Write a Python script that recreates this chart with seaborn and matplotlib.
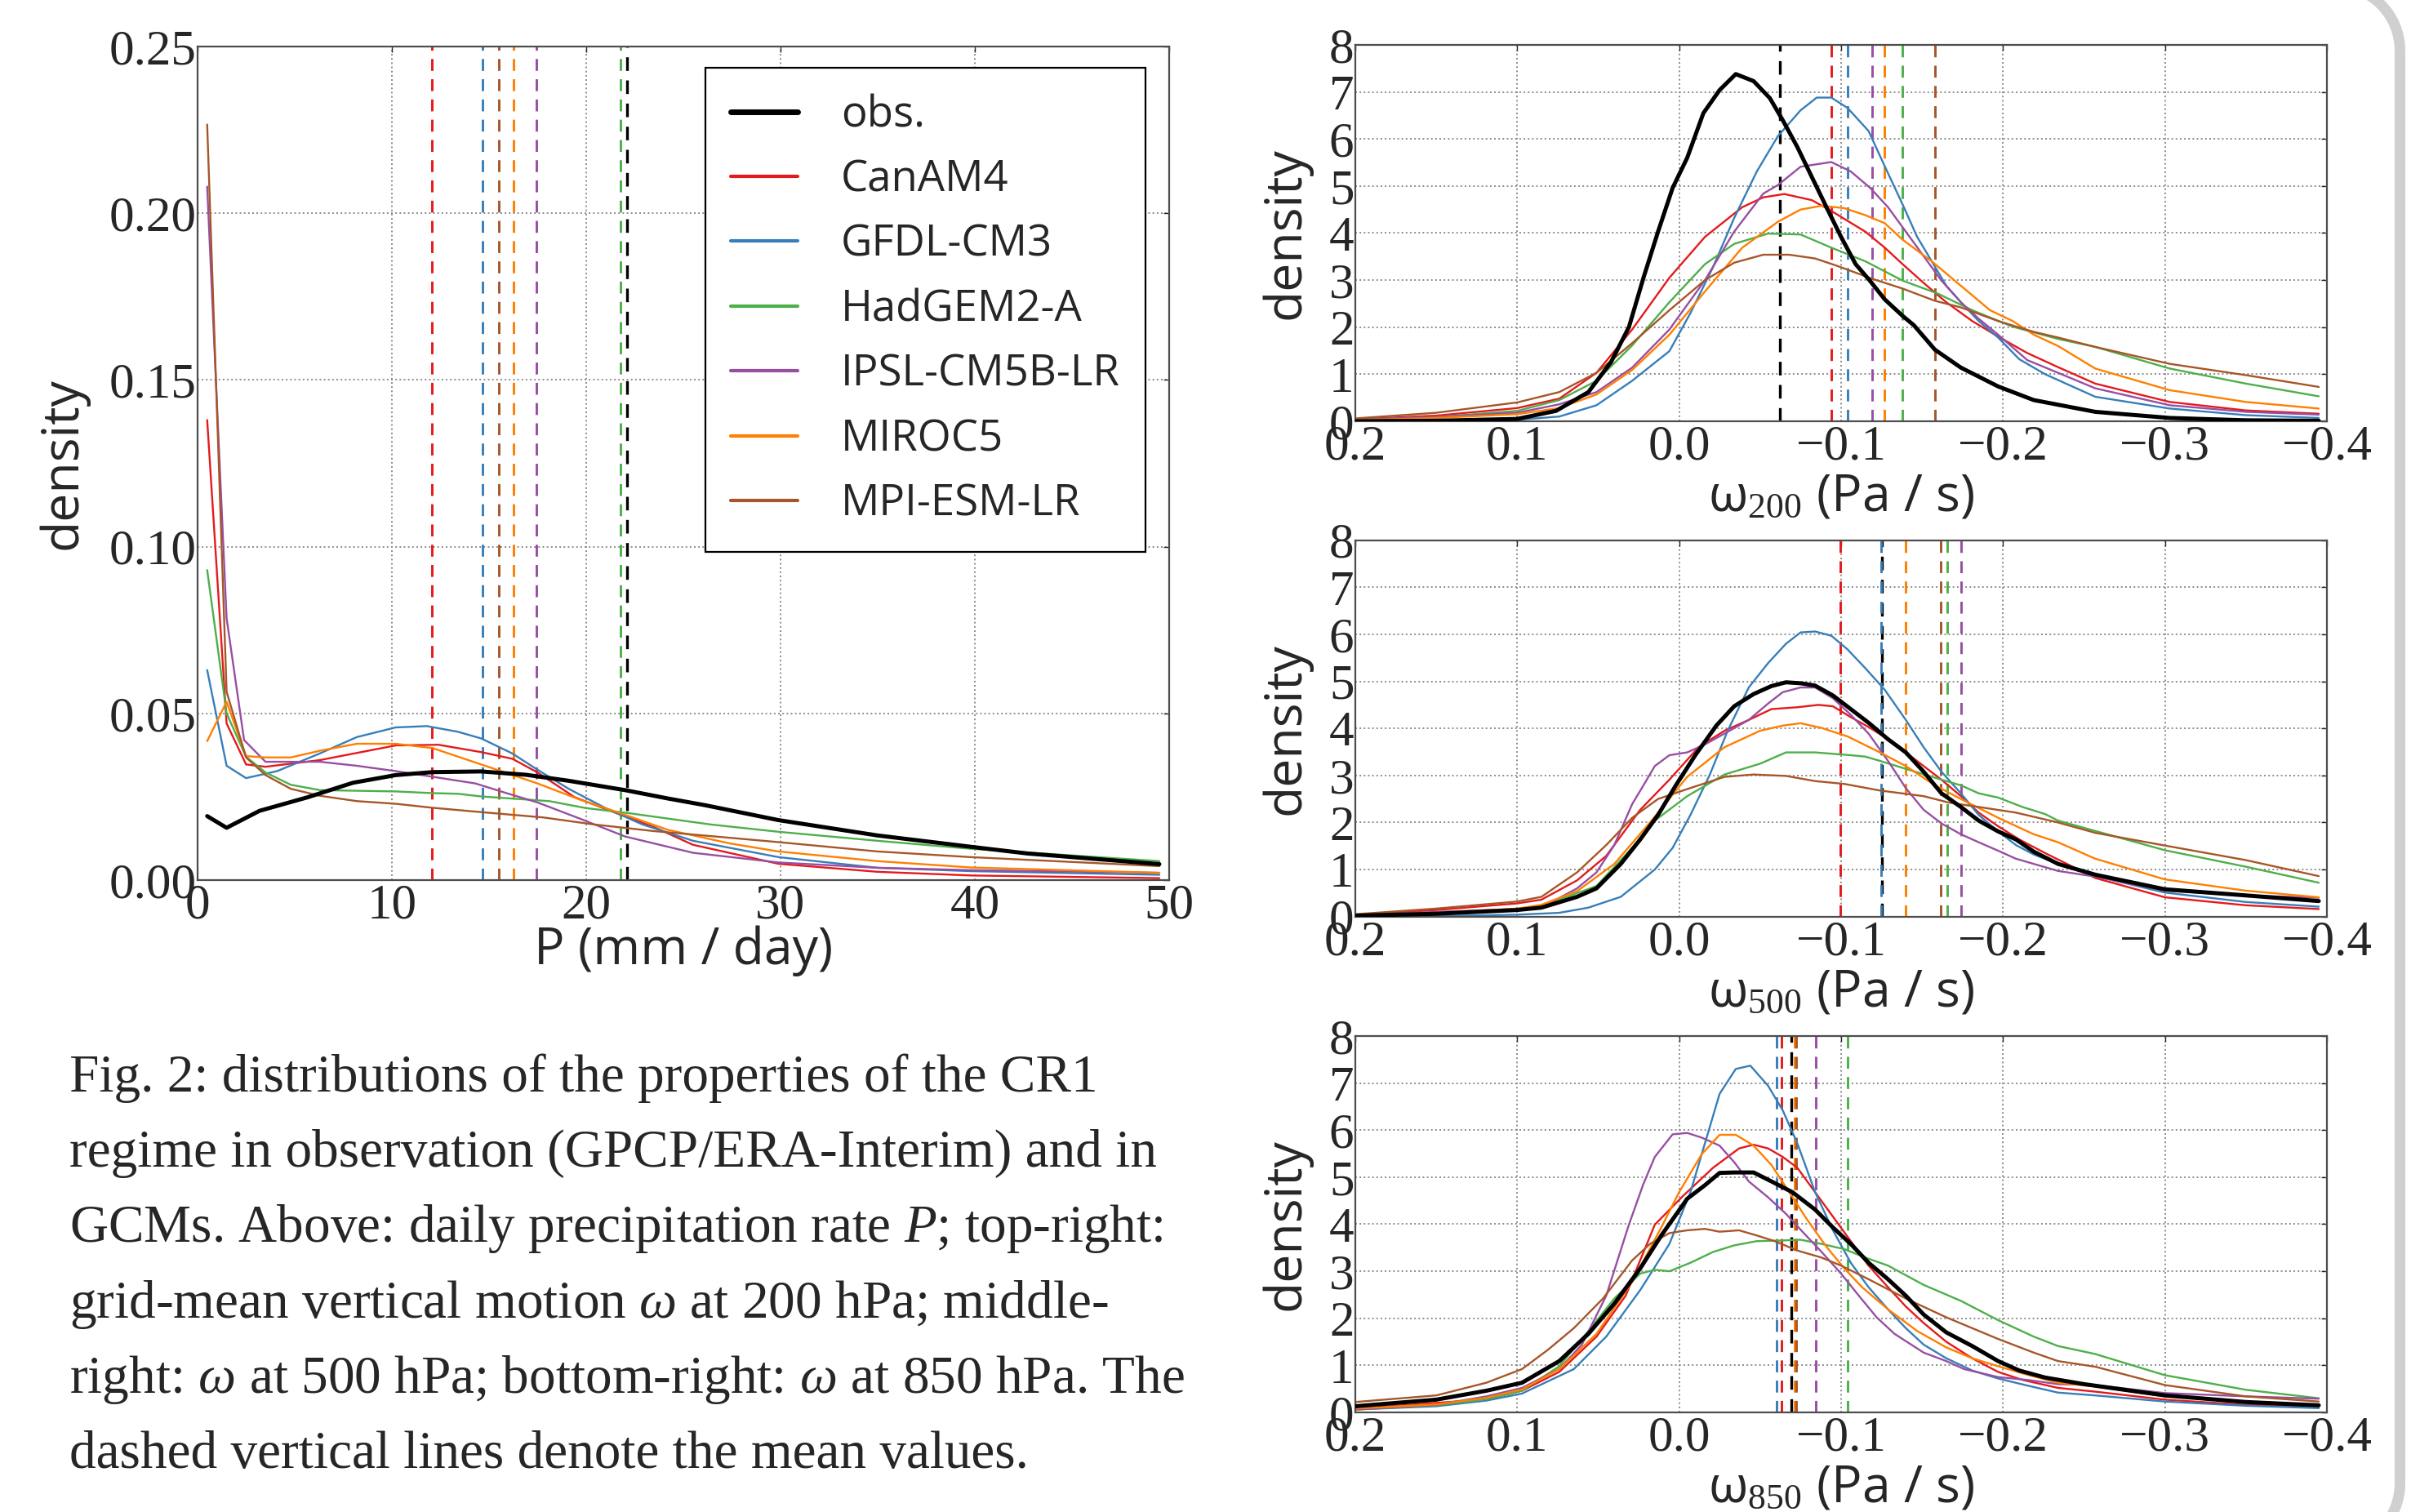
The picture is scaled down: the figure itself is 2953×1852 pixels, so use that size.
import pandas as pd
import seaborn as sns
import matplotlib.pyplot as plt
from matplotlib.path import Path
from matplotlib.patches import PathPatch
from matplotlib.transforms import IdentityTransform, Affine2D

# models and colours (ColorBrewer Set1)
models = ['obs.', 'CanAM4', 'GFDL-CM3', 'HadGEM2-A', 'IPSL-CM5B-LR', 'MIROC5', 'MPI-ESM-LR']
set1 = sns.color_palette('Set1', 9)
colors = {'obs.': 'black', 'CanAM4': set1[0], 'GFDL-CM3': set1[1], 'HadGEM2-A': set1[2],
          'IPSL-CM5B-LR': set1[3], 'MIROC5': set1[4], 'MPI-ESM-LR': set1[6]}

# ---- precipitation P (mm/day), (P, density) pairs
p_obs = [(0.5, 0.0192), (1.5, 0.0157), (3.2, 0.0208), (5.7, 0.0249), (8, 0.0292), (10.2, 0.0315),
         (12.1, 0.0324), (14.6, 0.0326), (16.9, 0.0316), (19.1, 0.0298), (22, 0.027), (24.2, 0.0245),
         (26.1, 0.0225), (29.9, 0.0180), (35, 0.0134), (39.8, 0.0100), (42.7, 0.0080), (49.5, 0.0048)]
p_can = [(0.5, 0.138), (1.5, 0.047), (2.5, 0.0347), (3.5, 0.034), (6.3, 0.036), (10.2, 0.0404),
         (12.4, 0.0406), (14.6, 0.0384), (16.2, 0.0364), (17.5, 0.0323), (19.4, 0.0249), (21.6, 0.020),
         (23.5, 0.0159), (25.5, 0.0106), (29.9, 0.0049), (35, 0.0025), (39.8, 0.0014), (49.5, 0.0006)]
p_gfdl = [(0.5, 0.063), (1.5, 0.0343), (2.5, 0.0306), (4.1, 0.0327), (6.3, 0.038), (8.2, 0.0429),
          (10.2, 0.0458), (11.8, 0.0462), (13.4, 0.0445), (14.6, 0.0425), (16.2, 0.038), (17.5, 0.0331),
          (19.1, 0.0274), (21, 0.0216), (22.9, 0.0167), (25.5, 0.0118), (29.9, 0.0069), (35, 0.0037),
          (39.8, 0.0027), (49.5, 0.0016)]
p_had = [(0.5, 0.093), (1.5, 0.050), (2.5, 0.037), (3.5, 0.0323), (4.8, 0.0286), (6.3, 0.027),
         (10.2, 0.0266), (12.1, 0.0261), (13.4, 0.0259), (14.6, 0.0251), (18.1, 0.0237), (20, 0.0216),
         (22.3, 0.020), (26.4, 0.0167), (29.9, 0.0145), (35, 0.0118), (39.8, 0.0094), (49.5, 0.0057)]
p_ipsl = [(0.5, 0.208), (1.5, 0.0785), (2.4, 0.042), (3.5, 0.0355), (6.3, 0.0355), (8.2, 0.0343),
          (10.2, 0.0327), (12.1, 0.031), (14.3, 0.029), (15.9, 0.0261), (17.5, 0.0233), (19.7, 0.0184),
          (22, 0.0131), (25.5, 0.0082), (29.9, 0.0053), (35, 0.0037), (39.8, 0.003), (49.5, 0.0022)]
p_miroc = [(0.5, 0.0417), (1.5, 0.0535), (2.5, 0.0372), (3.5, 0.0368), (4.8, 0.0368), (6.3, 0.0388),
           (8.2, 0.0409), (10.2, 0.0409), (12.1, 0.0396), (14.6, 0.0347), (17.5, 0.029), (19.7, 0.0241),
           (21.6, 0.0204), (24.2, 0.0151), (27.4, 0.011), (29.9, 0.0086), (35, 0.0057), (39.8, 0.0038),
           (49.5, 0.0022)]
p_mpi = [(0.5, 0.2266), (1.5, 0.0565), (2.5, 0.0368), (3.5, 0.0315), (4.8, 0.0274), (6.3, 0.0253),
         (8.2, 0.0237), (10.2, 0.0229), (12.1, 0.0217), (14.6, 0.0204), (17.8, 0.0188), (20.4, 0.0167),
         (23.5, 0.0147), (27.4, 0.0127), (29.9, 0.0114), (35, 0.0086), (39.8, 0.0069), (49.5, 0.0042)]
p_means = [22.1, 12.06, 14.68, 21.75, 17.46, 16.27, 15.5]

# ---- omega at 200 hPa (Pa/s), (omega, density) pairs
w200_obs = [(0.2, 0.0), (0.15, 0.01), (0.1, 0.05), (0.076, 0.22), (0.056, 0.62), (0.042, 1.26),
            (0.031, 2.0), (0.022, 3.05), (0.013, 4.03), (0.004, 4.96), (-0.005, 5.6), (-0.015, 6.55),
            (-0.025, 7.04), (-0.035, 7.38), (-0.046, 7.23), (-0.056, 6.87), (-0.064, 6.4), (-0.073, 5.83),
            (-0.082, 5.19), (-0.091, 4.55), (-0.1, 3.92), (-0.109, 3.34), (-0.118, 2.98), (-0.127, 2.59),
            (-0.138, 2.24), (-0.145, 2.04), (-0.158, 1.52), (-0.174, 1.14), (-0.197, 0.74), (-0.219, 0.45),
            (-0.257, 0.2), (-0.303, 0.07), (-0.35, 0.02), (-0.395, 0.01)]
w200_can = [(0.2, 0.04), (0.15, 0.12), (0.1, 0.28), (0.074, 0.48), (0.051, 1.03), (0.029, 1.95),
            (0.006, 3.05), (-0.016, 3.92), (-0.039, 4.55), (-0.052, 4.76), (-0.065, 4.83), (-0.082, 4.7),
            (-0.094, 4.47), (-0.115, 4.03), (-0.127, 3.69), (-0.138, 3.34), (-0.151, 2.94), (-0.165, 2.53),
            (-0.181, 2.13), (-0.197, 1.8), (-0.215, 1.45), (-0.234, 1.15), (-0.257, 0.8), (-0.303, 0.41),
            (-0.35, 0.23), (-0.395, 0.16)]
w200_gfdl = [(0.2, 0.0), (0.15, 0.01), (0.1, 0.03), (0.074, 0.1), (0.051, 0.34), (0.029, 0.86),
             (0.006, 1.49), (-0.007, 2.3), (-0.021, 3.28), (-0.034, 4.32), (-0.048, 5.31), (-0.061, 6.06),
             (-0.075, 6.61), (-0.085, 6.88), (-0.094, 6.88), (-0.104, 6.66), (-0.117, 6.17), (-0.127, 5.42),
             (-0.138, 4.61), (-0.147, 3.92), (-0.156, 3.4), (-0.165, 2.88), (-0.174, 2.53), (-0.185, 2.13),
             (-0.197, 1.78), (-0.21, 1.32), (-0.226, 1.0), (-0.257, 0.52), (-0.303, 0.27), (-0.35, 0.13),
             (-0.395, 0.07)]
w200_had = [(0.2, 0.03), (0.15, 0.09), (0.1, 0.22), (0.074, 0.45), (0.051, 0.86), (0.029, 1.61),
            (0.006, 2.53), (-0.016, 3.34), (-0.034, 3.77), (-0.055, 3.99), (-0.075, 3.97), (-0.094, 3.69),
            (-0.115, 3.4), (-0.138, 2.99), (-0.16, 2.71), (-0.181, 2.36), (-0.206, 2.01), (-0.234, 1.75),
            (-0.257, 1.58), (-0.303, 1.12), (-0.35, 0.8), (-0.395, 0.53)]
w200_ipsl = [(0.2, 0.03), (0.15, 0.09), (0.1, 0.18), (0.074, 0.36), (0.051, 0.62), (0.029, 1.14),
             (0.006, 1.95), (-0.016, 3.0), (-0.034, 4.03), (-0.052, 4.84), (-0.061, 5.02), (-0.075, 5.41),
             (-0.094, 5.51), (-0.106, 5.31), (-0.118, 4.96), (-0.129, 4.55), (-0.14, 4.03), (-0.151, 3.51),
             (-0.162, 2.99), (-0.174, 2.53), (-0.185, 2.18), (-0.197, 1.84), (-0.215, 1.3), (-0.234, 1.03),
             (-0.257, 0.7), (-0.303, 0.34), (-0.35, 0.2), (-0.395, 0.14)]
w200_miroc = [(0.2, 0.02), (0.15, 0.07), (0.1, 0.15), (0.074, 0.28), (0.051, 0.57), (0.029, 1.09),
              (0.006, 1.84), (-0.016, 2.76), (-0.039, 3.69), (-0.061, 4.24), (-0.075, 4.5), (-0.088, 4.58),
              (-0.102, 4.53), (-0.115, 4.38), (-0.127, 4.21), (-0.138, 3.86), (-0.156, 3.4), (-0.174, 2.88),
              (-0.192, 2.36), (-0.206, 2.13), (-0.219, 1.84), (-0.234, 1.6), (-0.257, 1.12), (-0.303, 0.66),
              (-0.35, 0.41), (-0.395, 0.27)]
w200_mpi = [(0.2, 0.06), (0.15, 0.18), (0.1, 0.4), (0.074, 0.62), (0.051, 1.03), (0.029, 1.66),
            (0.006, 2.36), (-0.016, 3.0), (-0.034, 3.37), (-0.052, 3.54), (-0.068, 3.54), (-0.084, 3.46),
            (-0.097, 3.31), (-0.12, 3.02), (-0.138, 2.82), (-0.158, 2.56), (-0.174, 2.42), (-0.197, 2.13),
            (-0.219, 1.9), (-0.234, 1.78), (-0.257, 1.58), (-0.303, 1.22), (-0.35, 0.98), (-0.395, 0.73)]
w200_means = [-0.062, -0.094, -0.104, -0.138, -0.119, -0.127, -0.158]

# ---- omega at 500 hPa
w500_obs = [(0.2, 0.02), (0.15, 0.06), (0.1, 0.14), (0.085, 0.19), (0.063, 0.42), (0.051, 0.6),
            (0.036, 1.12), (0.024, 1.64), (0.013, 2.16), (0.002, 2.79), (-0.01, 3.43), (-0.023, 4.06),
            (-0.034, 4.47), (-0.046, 4.73), (-0.057, 4.9), (-0.066, 4.98), (-0.075, 4.96), (-0.084, 4.91),
            (-0.095, 4.7), (-0.106, 4.41), (-0.117, 4.12), (-0.129, 3.77), (-0.14, 3.49), (-0.151, 3.08),
            (-0.162, 2.62), (-0.174, 2.33), (-0.185, 2.04), (-0.197, 1.81), (-0.208, 1.64), (-0.219, 1.38),
            (-0.234, 1.12), (-0.257, 0.89), (-0.3, 0.58), (-0.35, 0.45), (-0.395, 0.33)]
w500_can = [(0.2, 0.03), (0.15, 0.14), (0.1, 0.28), (0.085, 0.36), (0.063, 0.77), (0.045, 1.29),
            (0.024, 2.27), (0.006, 2.91), (-0.012, 3.6), (-0.028, 3.95), (-0.043, 4.18), (-0.057, 4.41),
            (-0.073, 4.45), (-0.086, 4.5), (-0.095, 4.47), (-0.106, 4.24), (-0.117, 4.03), (-0.129, 3.77),
            (-0.14, 3.49), (-0.151, 3.2), (-0.162, 2.91), (-0.174, 2.56), (-0.185, 2.21), (-0.197, 1.92),
            (-0.21, 1.64), (-0.226, 1.35), (-0.257, 0.82), (-0.3, 0.41), (-0.35, 0.24), (-0.395, 0.16)]
w500_gfdl = [(0.2, 0.0), (0.15, 0.01), (0.1, 0.04), (0.074, 0.08), (0.056, 0.19), (0.036, 0.42),
             (0.015, 1.0), (0.004, 1.46), (-0.007, 2.16), (-0.019, 3.02), (-0.03, 3.95), (-0.043, 4.87),
             (-0.055, 5.39), (-0.066, 5.8), (-0.075, 6.04), (-0.084, 6.06), (-0.094, 5.97), (-0.104, 5.68),
             (-0.115, 5.28), (-0.127, 4.82), (-0.14, 4.18), (-0.151, 3.6), (-0.162, 3.08), (-0.174, 2.62),
             (-0.185, 2.16), (-0.197, 1.81), (-0.208, 1.52), (-0.219, 1.32), (-0.234, 1.12), (-0.257, 0.86),
             (-0.3, 0.51), (-0.35, 0.31), (-0.395, 0.21)]
w500_had = [(0.2, 0.03), (0.15, 0.08), (0.1, 0.15), (0.085, 0.22), (0.051, 0.65), (0.029, 1.46),
            (0.015, 2.04), (-0.005, 2.56), (-0.028, 3.02), (-0.05, 3.25), (-0.066, 3.49), (-0.084, 3.49),
            (-0.106, 3.43), (-0.115, 3.4), (-0.124, 3.31), (-0.14, 3.14), (-0.162, 2.91), (-0.174, 2.79),
            (-0.185, 2.62), (-0.197, 2.53), (-0.212, 2.33), (-0.226, 2.18), (-0.234, 2.04), (-0.257, 1.82),
            (-0.3, 1.41), (-0.35, 1.06), (-0.395, 0.72)]
w500_ipsl = [(0.2, 0.03), (0.15, 0.1), (0.1, 0.16), (0.085, 0.19), (0.063, 0.6), (0.051, 0.94),
             (0.04, 1.52), (0.029, 2.39), (0.022, 2.79), (0.015, 3.2), (0.006, 3.43), (-0.005, 3.49),
             (-0.016, 3.66), (-0.028, 3.89), (-0.043, 4.18), (-0.055, 4.53), (-0.064, 4.77), (-0.075, 4.87),
             (-0.084, 4.87), (-0.095, 4.64), (-0.106, 4.29), (-0.117, 3.89), (-0.129, 3.31), (-0.14, 2.73),
             (-0.151, 2.27), (-0.162, 1.98), (-0.174, 1.75), (-0.185, 1.58), (-0.197, 1.4), (-0.208, 1.23),
             (-0.219, 1.12), (-0.234, 0.97), (-0.257, 0.85), (-0.3, 0.55), (-0.35, 0.45), (-0.395, 0.4)]
w500_miroc = [(0.2, 0.03), (0.15, 0.08), (0.1, 0.17), (0.085, 0.25), (0.063, 0.54), (0.04, 1.12),
              (0.017, 2.04), (-0.005, 2.97), (-0.028, 3.6), (-0.05, 3.95), (-0.064, 4.06), (-0.075, 4.11),
              (-0.088, 4.01), (-0.104, 3.83), (-0.124, 3.49), (-0.14, 3.2), (-0.158, 2.79), (-0.174, 2.5),
              (-0.197, 2.1), (-0.219, 1.75), (-0.234, 1.58), (-0.257, 1.23), (-0.3, 0.79), (-0.35, 0.55),
              (-0.395, 0.41)]
w500_mpi = [(0.2, 0.05), (0.15, 0.17), (0.1, 0.32), (0.085, 0.42), (0.063, 0.94), (0.045, 1.52),
            (0.029, 2.1), (0.013, 2.5), (-0.005, 2.71), (-0.028, 2.97), (-0.046, 3.02), (-0.066, 2.99),
            (-0.084, 2.88), (-0.102, 2.82), (-0.124, 2.68), (-0.151, 2.56), (-0.167, 2.42), (-0.185, 2.33),
            (-0.208, 2.21), (-0.234, 2.0), (-0.257, 1.78), (-0.3, 1.51), (-0.35, 1.2), (-0.395, 0.86)]
w500_means = [-0.1252, -0.0996, -0.1248, -0.1657, -0.1744, -0.14, -0.1616]

# ---- omega at 850 hPa
w850_obs = [(0.2, 0.13), (0.15, 0.27), (0.119, 0.46), (0.097, 0.63), (0.074, 1.09), (0.056, 1.67),
            (0.04, 2.31), (0.024, 3.06), (0.011, 3.76), (-0.005, 4.54), (-0.016, 4.83), (-0.025, 5.09),
            (-0.034, 5.1), (-0.046, 5.1), (-0.057, 4.91), (-0.07, 4.68), (-0.084, 4.31), (-0.095, 3.93),
            (-0.106, 3.58), (-0.117, 3.18), (-0.129, 2.83), (-0.14, 2.48), (-0.151, 2.08), (-0.165, 1.7),
            (-0.181, 1.41), (-0.197, 1.09), (-0.21, 0.89), (-0.226, 0.74), (-0.25, 0.6), (-0.3, 0.36),
            (-0.35, 0.22), (-0.395, 0.15)]
w850_can = [(0.2, 0.08), (0.15, 0.2), (0.119, 0.28), (0.097, 0.46), (0.074, 0.86), (0.051, 1.61),
            (0.033, 2.48), (0.015, 3.99), (-0.003, 4.62), (-0.021, 5.2), (-0.037, 5.61), (-0.046, 5.69),
            (-0.055, 5.61), (-0.064, 5.43), (-0.073, 5.2), (-0.084, 4.68), (-0.095, 4.16), (-0.106, 3.64),
            (-0.117, 3.12), (-0.129, 2.66), (-0.14, 2.25), (-0.151, 1.9), (-0.165, 1.5), (-0.181, 1.15),
            (-0.197, 0.86), (-0.212, 0.69), (-0.234, 0.52), (-0.257, 0.44), (-0.3, 0.27), (-0.35, 0.16),
            (-0.395, 0.13)]
w850_gfdl = [(0.2, 0.06), (0.15, 0.13), (0.119, 0.25), (0.097, 0.4), (0.065, 0.92), (0.045, 1.61),
             (0.024, 2.6), (0.006, 3.58), (-0.007, 4.68), (-0.025, 6.77), (-0.035, 7.3), (-0.044, 7.37),
             (-0.055, 6.94), (-0.064, 6.42), (-0.073, 5.72), (-0.084, 4.68), (-0.095, 3.87), (-0.106, 3.18),
             (-0.117, 2.66), (-0.129, 2.19), (-0.14, 1.79), (-0.151, 1.44), (-0.165, 1.15), (-0.181, 0.89),
             (-0.197, 0.72), (-0.215, 0.57), (-0.234, 0.42), (-0.257, 0.36), (-0.3, 0.23), (-0.35, 0.14),
             (-0.395, 0.09)]
w850_had = [(0.2, 0.06), (0.15, 0.15), (0.119, 0.28), (0.097, 0.46), (0.074, 0.98), (0.056, 1.73),
            (0.04, 2.42), (0.024, 2.95), (0.015, 3.03), (0.006, 3.0), (-0.007, 3.18), (-0.021, 3.41),
            (-0.034, 3.55), (-0.048, 3.64), (-0.061, 3.65), (-0.075, 3.67), (-0.088, 3.58), (-0.102, 3.47),
            (-0.115, 3.29), (-0.129, 3.12), (-0.151, 2.71), (-0.174, 2.37), (-0.197, 1.96), (-0.219, 1.61),
            (-0.234, 1.41), (-0.257, 1.24), (-0.3, 0.79), (-0.35, 0.48), (-0.395, 0.3)]
w850_ipsl = [(0.2, 0.06), (0.15, 0.16), (0.119, 0.34), (0.097, 0.52), (0.074, 0.92), (0.06, 1.44),
             (0.045, 2.48), (0.031, 3.99), (0.022, 4.86), (0.015, 5.43), (0.004, 5.91), (-0.005, 5.94),
             (-0.014, 5.84), (-0.025, 5.67), (-0.034, 5.32), (-0.043, 4.91), (-0.055, 4.57), (-0.066, 4.22),
             (-0.077, 3.81), (-0.088, 3.41), (-0.1, 2.95), (-0.111, 2.48), (-0.122, 2.02), (-0.133, 1.67),
             (-0.151, 1.27), (-0.165, 1.09), (-0.176, 0.92), (-0.197, 0.75), (-0.215, 0.69), (-0.234, 0.6),
             (-0.257, 0.58), (-0.3, 0.41), (-0.35, 0.34), (-0.395, 0.29)]
w850_miroc = [(0.2, 0.08), (0.15, 0.17), (0.119, 0.31), (0.097, 0.49), (0.074, 0.92), (0.051, 1.67),
              (0.029, 2.77), (0.011, 3.93), (0.0, 4.68), (-0.014, 5.49), (-0.025, 5.9), (-0.035, 5.9),
              (-0.046, 5.67), (-0.057, 5.26), (-0.068, 4.68), (-0.079, 4.1), (-0.091, 3.52), (-0.102, 3.06),
              (-0.113, 2.66), (-0.129, 2.19), (-0.147, 1.73), (-0.165, 1.38), (-0.181, 1.15), (-0.197, 0.98),
              (-0.215, 0.8), (-0.234, 0.63), (-0.257, 0.55), (-0.3, 0.34), (-0.35, 0.22), (-0.395, 0.16)]
w850_mpi = [(0.2, 0.22), (0.15, 0.36), (0.119, 0.63), (0.097, 0.92), (0.081, 1.33), (0.065, 1.79),
            (0.047, 2.42), (0.029, 3.23), (0.018, 3.58), (0.006, 3.81), (-0.005, 3.87), (-0.016, 3.9),
            (-0.025, 3.84), (-0.037, 3.87), (-0.048, 3.76), (-0.059, 3.64), (-0.073, 3.44), (-0.088, 3.29),
            (-0.1, 3.12), (-0.117, 2.83), (-0.14, 2.42), (-0.165, 2.02), (-0.197, 1.56), (-0.219, 1.27),
            (-0.234, 1.09), (-0.257, 0.97), (-0.3, 0.58), (-0.35, 0.34), (-0.395, 0.23)]
w850_means = [-0.0692, -0.0631, -0.0602, -0.1041, -0.0843, -0.0715, -0.0725]

caption = ["Fig. 2: distributions of the properties of the CR1",
           "regime in observation (GPCP/ERA-Interim) and in",
           "GCMs. Above: daily precipitation rate $P$; top-right:",
           "grid-mean vertical motion $\\omega$ at 200 hPa; middle-",
           "right: $\\omega$ at 500 hPa; bottom-right: $\\omega$ at 850 hPa. The",
           "dashed vertical lines denote the mean values."]

# ---- style
sns.set_style('white')
plt.rcParams['font.family'] = ['Liberation Serif', 'DejaVu Serif']
plt.rcParams['mathtext.fontset'] = 'custom'
plt.rcParams['mathtext.rm'] = 'Liberation Serif'
plt.rcParams['mathtext.it'] = 'Liberation Serif:italic'
plt.rcParams['mathtext.bf'] = 'Liberation Serif:bold'
TICK = 44
LAB = 45
sans = 'Open Sans'


def draw_panel(ax, curves, means):
    # means (dashed) below the curves, obs. drawn last (on top)
    for m, v in zip(models, means):
        ax.axvline(v, color=colors[m], ls=(0, (5, 3.5)), lw=2.1 if m != 'obs.' else 2.4, zorder=1.5)
    for m in models[1:] + models[:1]:
        d = pd.DataFrame(curves[m], columns=['x', 'density'])
        sns.lineplot(data=d, x='x', y='density', ax=ax, color=colors[m], label=m,
                     lw=3.6 if m == 'obs.' else 1.7, estimator=None, sort=False,
                     zorder=3 if m == 'obs.' else 2)
    if ax.get_legend() is not None:
        ax.get_legend().remove()
    ax.grid(True, ls=':', color='0.55', lw=1.4)
    ax.set_axisbelow(True)
    ax.tick_params(direction='in', top=True, right=True, length=5, width=1,
                   labelsize=TICK, pad=3)
    for s in ax.spines.values():
        s.set_color('0.3')
        s.set_linewidth(1.6)


fig = plt.figure(figsize=(29.53, 18.52), dpi=100)

# left panel: precipitation
axp = fig.add_axes([0.0819, 0.4179, 0.403, 0.5513])
draw_panel(axp, dict(zip(models, [p_obs, p_can, p_gfdl, p_had, p_ipsl, p_miroc, p_mpi])), p_means)
axp.set_xlim(0, 50)
axp.set_ylim(0, 0.25)
axp.set_xticks([0, 10, 20, 30, 40, 50])
axp.set_yticks([0, 0.05, 0.10, 0.15, 0.20, 0.25])
axp.tick_params(axis='y', pad=1)
axp.set_xlabel('P (mm / day)', fontfamily=sans, fontsize=LAB)
axp.set_ylabel('density', fontfamily=sans, fontsize=LAB)
axp.xaxis.set_label_coords(0.5, -0.054)
axp.yaxis.set_label_coords(-0.112, 0.5)

h, l = axp.get_legend_handles_labels()
order = [l.index(m) for m in models]
leg = axp.legend([h[i] for i in order], [l[i] for i in order], loc='upper right',
                 bbox_to_anchor=(0.976, 0.9745), borderaxespad=0,
                 prop={'family': sans, 'size': 38}, handlelength=1.55, handletextpad=1.0,
                 labelspacing=0.49, borderpad=0.6, fancybox=False, framealpha=1,
                 edgecolor='black')
leg.get_frame().set_linewidth(1.6)
for lh in leg.legend_handles:
    lh.set_linewidth(5 if lh.get_color() == 'black' else 3)

# right panels: omega
omega_sets = [
    ('200', [w200_obs, w200_can, w200_gfdl, w200_had, w200_ipsl, w200_miroc, w200_mpi], w200_means, 0.7214),
    ('500', [w500_obs, w500_can, w500_gfdl, w500_had, w500_ipsl, w500_miroc, w500_mpi], w500_means, 0.3938),
    ('850', [w850_obs, w850_can, w850_gfdl, w850_had, w850_ipsl, w850_miroc, w850_mpi], w850_means, 0.0659),
]
for lev, curves, means, bottom in omega_sets:
    ax = fig.add_axes([0.5621, bottom, 0.403, 0.2489])
    draw_panel(ax, dict(zip(models, curves)), means)
    ax.set_xlim(0.2, -0.4)
    ax.set_ylim(0, 8)
    ax.set_xticks([0.2, 0.1, 0.0, -0.1, -0.2, -0.3, -0.4])
    ax.set_yticks(range(0, 9))
    ax.tick_params(axis='y', pad=1)
    ax.set_xlabel('ω$_{' + lev + '}$ (Pa / s)', fontfamily=sans, fontsize=LAB)
    ax.set_ylabel('density', fontfamily=sans, fontsize=LAB)
    ax.xaxis.set_label_coords(0.5, -0.135)
    ax.yaxis.set_label_coords(-0.045, 0.5)

# caption
for i, line in enumerate(caption):
    fig.text(85 / 2953, 1 - (1337 + 92.2 * i) / 1852, line, fontsize=47, va='baseline', ha='left')

# grey rounded slide frame at the right edge (pixel coordinates, origin bottom-left)
r = 80
top_arc = Path.arc(0, 90).transformed(Affine2D().scale(r).translate(2939.5 - r, 1852 + 18 - r))
bot_arc = Path.arc(270, 360).transformed(Affine2D().scale(r).translate(2939.5 - r, -45 + r))
side = Path([(2939.5, 1852 + 18 - r), (2939.5, -45 + r)])
frame_path = Path.make_compound_path(top_arc, side, bot_arc)
fig.add_artist(PathPatch(frame_path, transform=IdentityTransform(), fill=False,
                         edgecolor='#d0d0d0', lw=9.4, capstyle='butt'))

fig.savefig('out.png', dpi=100)
